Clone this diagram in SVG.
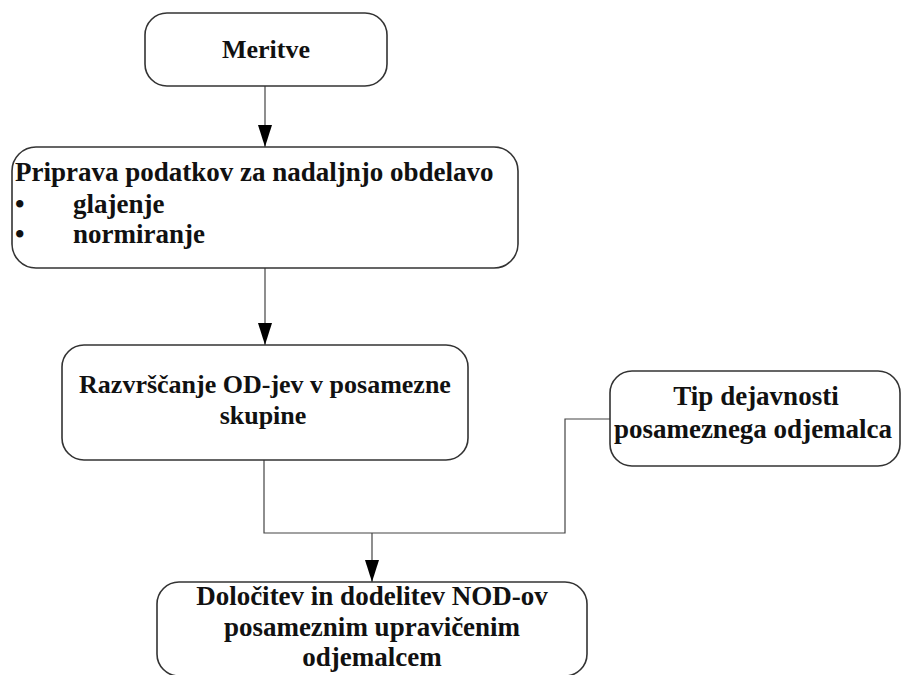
<svg xmlns="http://www.w3.org/2000/svg" width="904" height="675" viewBox="0 0 904 675">
<style>
.box{fill:#fff;stroke:#333;stroke-width:1.6}
.t{font-family:"Liberation Serif","Times New Roman",serif;font-weight:bold;fill:#111;font-size:27px}
.c{text-anchor:middle}
.ln{fill:none;stroke:#444;stroke-width:1.2}
</style>
<defs>
<marker id="ah" markerUnits="userSpaceOnUse" markerWidth="22" markerHeight="14" refX="22" refY="7" orient="auto">
<path d="M0,0 L22,7 L0,14 z" fill="#000"/>
</marker>
</defs>
<rect width="904" height="675" fill="#fff"/>
<g id="connectors">
<path class="ln" d="M265,86 V147" marker-end="url(#ah)"/>
<path class="ln" d="M265,268 V345" marker-end="url(#ah)"/>
<path class="ln" d="M264,460 V533 H565 V419 H610"/>
<path class="ln" d="M372,533 V582" marker-end="url(#ah)"/>
</g>
<g id="meritve">
<rect class="box" x="145" y="13" width="242" height="73" rx="22"/>
<text class="t c" x="266" y="58" style="font-size:26px">Meritve</text>
</g>
<g id="priprava">
<rect class="box" x="12" y="147" width="506" height="121" rx="24"/>
<text class="t" x="15" y="181">Priprava podatkov za nadaljnjo obdelavo</text>
<text class="t" x="15" y="213">•</text>
<text class="t" x="73" y="213">glajenje</text>
<text class="t" x="15" y="243">•</text>
<text class="t" x="73" y="243">normiranje</text>
</g>
<g id="razvrscanje">
<rect class="box" x="62" y="345" width="406" height="115" rx="22"/>
<text class="t c" x="265" y="393" style="font-size:26px">Razvrščanje OD-jev v posamezne</text>
<text class="t c" x="263" y="424" style="font-size:26px">skupine</text>
</g>
<g id="tip">
<rect class="box" x="610" y="371" width="290" height="95" rx="22"/>
<text class="t c" x="756" y="405">Tip dejavnosti</text>
<text class="t c" x="753" y="438">posameznega odjemalca</text>
</g>
<g id="dolocitev">
<rect class="box" x="157" y="582" width="430" height="94" rx="22"/>
<text class="t c" x="372" y="605">Določitev in dodelitev NOD-ov</text>
<text class="t c" x="372" y="636">posameznim upravičenim</text>
<text class="t c" x="372" y="666">odjemalcem</text>
</g>
</svg>
